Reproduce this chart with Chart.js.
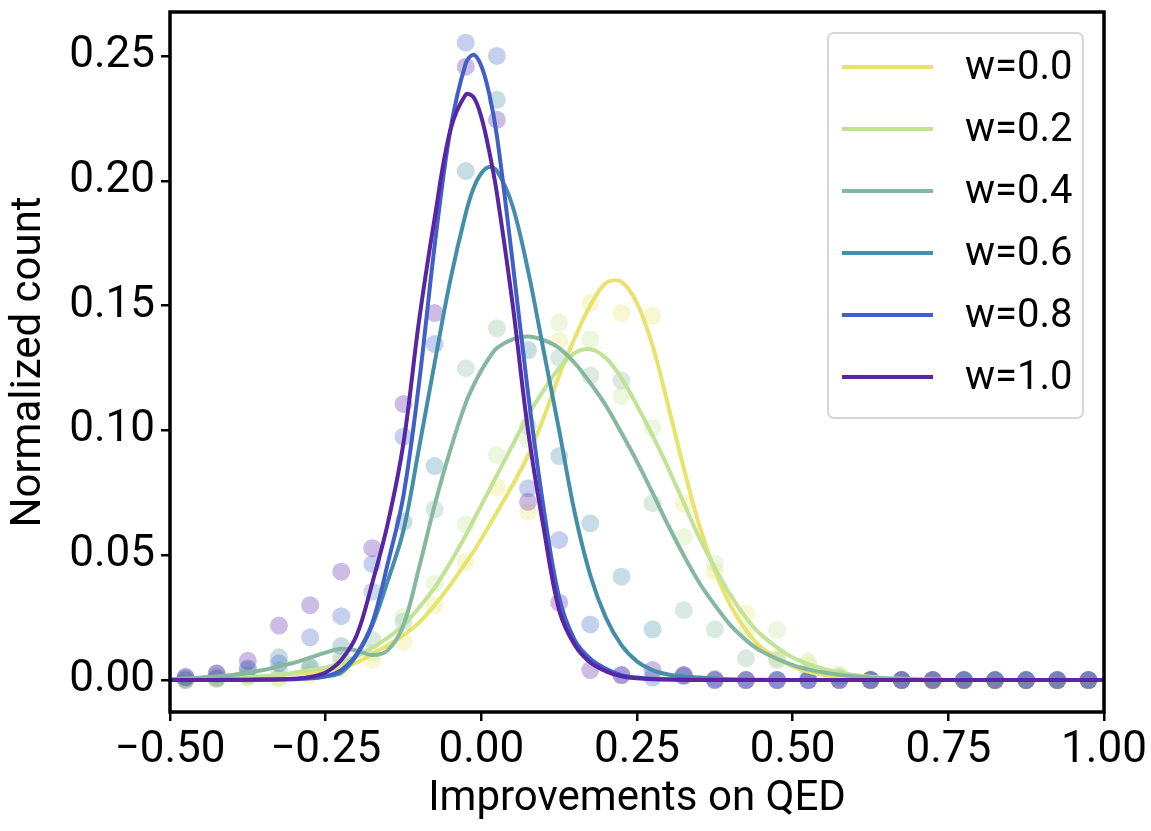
<!DOCTYPE html>
<html>
<head>
<meta charset="utf-8">
<title>Improvements on QED</title>
<script src="https://cdn.jsdelivr.net/npm/chart.js@4.4.1/dist/chart.umd.min.js"></script>
<style>
  html, body { margin: 0; padding: 0; background: #fff; }
  #wrap { width: 1151px; height: 831px; }
</style>
</head>
<body>
<div id="wrap"><canvas id="qedChart"></canvas></div>
<script>
// Series labels and colours (legend order)
const seriesLabels = ['w=0.0', 'w=0.2', 'w=0.4', 'w=0.6', 'w=0.8', 'w=1.0'];
const lineColors = ['#e8e36a', '#c2e396', '#85b89e', '#448eaa', '#405fc8', '#5826a4'];
const dotColors = ['rgba(232,227,106,0.3)', 'rgba(194,227,150,0.3)', 'rgba(133,184,158,0.3)',
                   'rgba(68,142,170,0.3)', 'rgba(64,95,200,0.3)', 'rgba(88,38,164,0.3)'];

// Axis ticks
const xTicks = [-0.5, -0.25, 0, 0.25, 0.5, 0.75, 1.0];
const yTicks = [0, 0.05, 0.1, 0.15, 0.2, 0.25];

// Histogram bin centres (bin width 0.05)
const binCenters = [-0.475, -0.425, -0.375, -0.325, -0.275, -0.225, -0.175, -0.125, -0.075, -0.025,
                    0.025, 0.075, 0.125, 0.175, 0.225, 0.275, 0.325, 0.375, 0.425, 0.475,
                    0.525, 0.575, 0.625, 0.675, 0.725, 0.775, 0.825, 0.875, 0.925, 0.975];

// Normalized counts per bin (scatter dots)
const countsW00 = [0, 0.0005, 0.001, 0.001, 0.002, 0.0047, 0.008, 0.0153, 0.030, 0.0474,
                   0.0772, 0.0674, 0.136, 0.151, 0.147, 0.146, 0.0708, 0.0434, 0.0267, 0.009,
                   0.006, 0.002, 0, 0, 0, 0, 0, 0, 0, 0];
const countsW02 = [0, 0.001, 0.001, 0.0007, 0.003, 0.0073, 0.011, 0.0254, 0.0387, 0.0624,
                   0.0901, 0.0962, 0.1432, 0.1365, 0.1138, 0.101, 0.0574, 0.0467, 0.0194, 0.020,
                   0.0073, 0.002, 0.0005, 0, 0, 0, 0, 0, 0, 0];
const countsW04 = [0.0005, 0.001, 0.002, 0.004, 0.0053, 0.009, 0.016, 0.0234, 0.0684, 0.1249,
                   0.1409, 0.1018, 0.129, 0.122, 0.120, 0.0708, 0.028, 0.0203, 0.0087, 0.008,
                   0.003, 0.001, 0, 0, 0, 0, 0, 0, 0, 0];
const countsW06 = [0, 0.0005, 0.004, 0.0091, 0.005, 0.0136, 0.0354, 0.0634, 0.0857, 0.2039,
                   0.2324, 0.1322, 0.0897, 0.0628, 0.0414, 0.0203, 0.002, 0.0005, 0, 0,
                   0, 0, 0, 0, 0, 0, 0, 0, 0, 0];
const countsW08 = [0.001, 0.0025, 0.0047, 0.0067, 0.0171, 0.0256, 0.0465, 0.0975, 0.1346, 0.2553,
                   0.250, 0.0768, 0.0561, 0.0223, 0.002, 0.001, 0.0015, 0, 0, 0,
                   0, 0, 0, 0, 0, 0, 0, 0, 0, 0];
const countsW10 = [0.0013, 0.0027, 0.0077, 0.0218, 0.030, 0.0434, 0.0528, 0.1106, 0.147, 0.2457,
                   0.2244, 0.0714, 0.031, 0.004, 0.002, 0.004, 0.002, 0, 0, 0,
                   0, 0, 0, 0, 0, 0, 0, 0, 0, 0];

// Smoothed density curves at these x positions
const curveX = [-0.5, -0.45, -0.4, -0.35, -0.325, -0.3, -0.275, -0.25, -0.225, -0.2,
                -0.175, -0.15, -0.125, -0.1, -0.075, -0.05, -0.025, -0.0125, 0, 0.0125,
                0.025, 0.05, 0.075, 0.1, 0.125, 0.15, 0.175, 0.2, 0.225, 0.25,
                0.275, 0.3, 0.325, 0.35, 0.375, 0.4, 0.425, 0.45, 0.5, 0.55,
                0.6, 0.65, 0.7, 0.8, 0.9, 1.0];
const curveW00 = [0, 0.0003, 0.0007, 0.0015, 0.002, 0.0025, 0.003, 0.004, 0.005, 0.007,
                  0.0105, 0.014, 0.018, 0.023, 0.030, 0.038, 0.047, 0.0515, 0.0565, 0.0618,
                  0.0672, 0.078, 0.090, 0.105, 0.122, 0.137, 0.150, 0.159, 0.1595, 0.151,
                  0.134, 0.110, 0.085, 0.062, 0.044, 0.030, 0.020, 0.013, 0.0055, 0.002,
                  0.0007, 0.0002, 0, 0, 0, 0];
const curveW02 = [0, 0.0003, 0.0007, 0.0015, 0.002, 0.003, 0.004, 0.005, 0.007, 0.0095,
                  0.013, 0.017, 0.022, 0.029, 0.037, 0.047, 0.058, 0.064, 0.070, 0.076,
                  0.082, 0.094, 0.106, 0.116, 0.125, 0.131, 0.1325, 0.129, 0.121, 0.110,
                  0.098, 0.085, 0.071, 0.057, 0.045, 0.034, 0.025, 0.018, 0.009, 0.0045,
                  0.002, 0.0008, 0.0003, 0, 0, 0];
const curveW04 = [0.0003, 0.001, 0.002, 0.004, 0.0055, 0.007, 0.009, 0.011, 0.0125, 0.0118,
                  0.010, 0.012, 0.022, 0.045, 0.070, 0.092, 0.111, 0.118, 0.124, 0.129,
                  0.133, 0.1365, 0.1376, 0.1362, 0.133, 0.127, 0.119, 0.110, 0.099, 0.0875,
                  0.075, 0.062, 0.050, 0.039, 0.030, 0.022, 0.016, 0.0115, 0.006, 0.003,
                  0.0015, 0.0006, 0.0002, 0, 0, 0];
const curveW06 = [0, 0, 0.0001, 0.0002, 0.0003, 0.0005, 0.0008, 0.0015, 0.003, 0.010,
                  0.022, 0.040, 0.060, 0.093, 0.127, 0.160, 0.187, 0.197, 0.203, 0.2055,
                  0.204, 0.190, 0.164, 0.132, 0.100, 0.067, 0.042, 0.025, 0.014, 0.0075,
                  0.004, 0.0022, 0.0014, 0.001, 0.0006, 0.0003, 0.0002, 0.0001, 0, 0,
                  0, 0, 0, 0, 0, 0];
const curveW08 = [0, 0, 0, 0.0001, 0.0002, 0.0003, 0.0007, 0.0015, 0.004, 0.0105,
                  0.023, 0.047, 0.074, 0.119, 0.174, 0.220, 0.247, 0.2505, 0.246, 0.235,
                  0.218, 0.168, 0.115, 0.069, 0.033, 0.016, 0.0085, 0.0045, 0.002, 0.001,
                  0.0005, 0.0003, 0.0002, 0.0001, 0, 0, 0, 0, 0, 0,
                  0, 0, 0, 0, 0, 0];
const curveW10 = [0, 0, 0.0001, 0.0002, 0.0003, 0.0005, 0.0012, 0.003, 0.008, 0.018,
                  0.039, 0.063, 0.095, 0.144, 0.185, 0.220, 0.2345, 0.2335, 0.2255, 0.212,
                  0.195, 0.151, 0.100, 0.061, 0.028, 0.014, 0.007, 0.0035, 0.0015, 0.0007,
                  0.0003, 0.0002, 0.0001, 0, 0, 0, 0, 0, 0, 0,
                  0, 0, 0, 0, 0, 0];

const allCounts = [countsW00, countsW02, countsW04, countsW06, countsW08, countsW10];
const allCurves = [curveW00, curveW02, curveW04, curveW06, curveW08, curveW10];

const FONT = "Roboto, 'DejaVu Sans', sans-serif";
const TICK_SIZE = 44;
const TITLE_SIZE = 42;
const LEGEND_SIZE = 40;

function tickText(v) {
    return (v < 0 ? '\u2212' : '') + Math.abs(v).toFixed(2);
}

// Build datasets: dots behind, curves on top (w=1.0 topmost)
const datasets = [];
allCurves.forEach((ys, i) => {
    datasets.push({
        label: seriesLabels[i],
        data: curveX.map((x, j) => ({ x: x, y: ys[j] })),
        borderColor: lineColors[i],
        backgroundColor: lineColors[i],
        borderWidth: 4,
        pointRadius: 0,
        tension: 0.35,
        fill: false,
        order: 5 - i
    });
});
allCounts.forEach((ys, i) => {
    datasets.push({
        label: seriesLabels[i] + ' counts',
        data: binCenters.map((x, j) => ({ x: x, y: ys[j] })),
        showLine: false,
        pointRadius: 9,
        pointBorderWidth: 0,
        pointBackgroundColor: dotColors[i],
        pointBorderColor: 'rgba(0,0,0,0)',
        order: 20 - i
    });
});

// Frame round the plot + legend box in the upper right
const framePlugin = {
    id: 'frame',
    afterDatasetsDraw(chart) {
        const { ctx, chartArea } = chart;
        ctx.save();
        ctx.strokeStyle = '#000';
        ctx.lineWidth = 3.5;
        ctx.strokeRect(chartArea.left, chartArea.top,
                       chartArea.right - chartArea.left, chartArea.bottom - chartArea.top);

        const w = 255, h = 385, rowH = 62;
        const x0 = chartArea.right - 21 - w;
        const y0 = chartArea.top + 21;
        ctx.beginPath();
        ctx.roundRect(x0, y0, w, h, 6);
        ctx.fillStyle = 'rgba(255,255,255,0.8)';
        ctx.fill();
        ctx.strokeStyle = '#d6d6d6';
        ctx.lineWidth = 2;
        ctx.stroke();

        ctx.font = LEGEND_SIZE + 'px ' + FONT;
        ctx.textBaseline = 'middle';
        ctx.textAlign = 'left';
        seriesLabels.forEach((label, i) => {
            const y = y0 + 34 + i * rowH;
            ctx.strokeStyle = lineColors[i];
            ctx.lineWidth = 4;
            ctx.beginPath();
            ctx.moveTo(x0 + 14, y);
            ctx.lineTo(x0 + 105, y);
            ctx.stroke();
            ctx.fillStyle = '#000';
            ctx.fillText(label, x0 + 137, y + 2);
        });
        ctx.restore();
    }
};

document.addEventListener('DOMContentLoaded', function() {
    const ctx = document.getElementById('qedChart');
    new Chart(ctx, {
        type: 'line',
        data: { datasets: datasets },
        options: {
            responsive: true,
            maintainAspectRatio: false,
            animation: false,
            events: [],
            layout: { padding: { left: 0, right: 47, top: 12, bottom: 0 } },
            plugins: {
                legend: { display: false },
                tooltip: { enabled: false }
            },
            scales: {
                x: {
                    type: 'linear',
                    min: -0.5,
                    max: 1.0,
                    afterBuildTicks: scale => { scale.ticks = xTicks.map(v => ({ value: v })); },
                    afterFit: scale => {
                        scale.height = 119;
                        scale.paddingLeft = 0;
                        scale.paddingRight = 0;
                    },
                    grid: { drawOnChartArea: false, drawTicks: true, tickLength: 9, color: '#000', lineWidth: 2.5 },
                    border: { display: false },
                    ticks: {
                        color: '#000',
                        padding: 4,
                        maxRotation: 0,
                        font: { family: FONT, size: TICK_SIZE },
                        callback: v => tickText(v)
                    },
                    title: {
                        display: true,
                        text: 'Improvements on QED',
                        color: '#000',
                        font: { family: FONT, size: TITLE_SIZE },
                        padding: { top: 0, bottom: 6 }
                    }
                },
                y: {
                    min: -0.0128,
                    max: 0.2676,
                    afterBuildTicks: scale => { scale.ticks = yTicks.map(v => ({ value: v })); },
                    afterFit: scale => {
                        scale.width = 170;
                        scale.paddingTop = 0;
                        scale.paddingBottom = 0;
                    },
                    grid: { drawOnChartArea: false, drawTicks: true, tickLength: 9, color: '#000', lineWidth: 2.5 },
                    border: { display: false },
                    ticks: {
                        color: '#000',
                        padding: 6,
                        font: { family: FONT, size: TICK_SIZE },
                        callback: v => tickText(v)
                    },
                    title: {
                        display: true,
                        text: 'Normalized count',
                        color: '#000',
                        font: { family: FONT, size: TITLE_SIZE },
                        padding: { top: 4, bottom: 0 }
                    }
                }
            }
        },
        plugins: [framePlugin]
    });
});
</script>
</body>
</html>
